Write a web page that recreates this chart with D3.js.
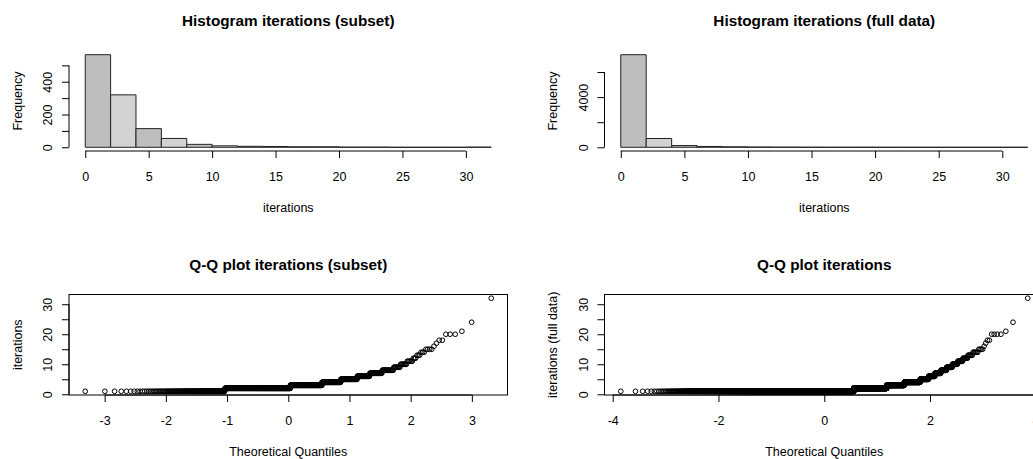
<!DOCTYPE html>
<html><head><meta charset="utf-8">
<script src="https://cdn.jsdelivr.net/npm/d3@7"></script>
<style>
html,body{margin:0;padding:0;background:#fff;}
svg{display:block;font-family:"Liberation Sans",Arial,Helvetica,sans-serif;}
</style></head><body>
<svg id="chart" width="1033" height="459"></svg>
<script>
// Observed iteration counts, tabulated as frequency per iteration value
const iterationValues = d3.range(1, 33);
const subsetFreq = [165,400,215,105,72,42,32,22,10,8,6,3,3,3,4,1,1,2,0,3,1,0,0,1,0,0,0,0,0,0,0,1];
const fullFreq   = [5960,1420,449,251,90,50,38,28,22,16,12,9,7,6,4,1,1,2,0,4,1,0,0,1,0,0,0,0,0,0,0,1];

// Histogram breaks and axis ticks
const histBreaks = d3.range(0, 33, 2);
const histXTicks = [0,5,10,15,20,25,30];
const subsetFreqTicks = [0,100,200,300,400,500];
const subsetFreqLabels = [0,200,400];
const fullFreqTicks = [0,2000,4000,6000];
const fullFreqLabels = [0,4000];
const qqXTicksSubset = [-3,-2,-1,0,1,2,3];
const qqXTicksFull = [-4,-2,0,2,4];
const qqYTicks = [0,5,10,15,20,25,30];
const qqYLabels = [0,10,20,30];

const svg = d3.select("#chart");
const cols = [{x0: 69, x1: 507.5}, {x0: 604.5, x1: 1044}];
const rows = [{y0: 51, y1: 151}, {y0: 294.5, y1: 395}];
const TICK = 7, FS = 12.5, TITLE_FS = 15.3;

// base-R style 4% range extension
function extend(lo, hi) { const p = (hi - lo) * 0.04; return [lo - p, hi + p]; }

// inverse standard normal CDF (Acklam)
function qnorm(p) {
  const a=[-3.969683028665376e+01,2.209460984245205e+02,-2.759285104469687e+02,1.383577518672690e+02,-3.066479806614716e+01,2.506628277459239e+00];
  const b=[-5.447609879822406e+01,1.615858368580409e+02,-1.556989798598866e+02,6.680131188771972e+01,-1.328068155288572e+01];
  const c=[-7.784894002430293e-03,-3.223964580411365e-01,-2.400758277161838e+00,-2.549732539343734e+00,4.374664141464968e+00,2.938163982698783e+00];
  const d=[7.784695709041462e-03,3.224671290700398e-01,2.445134137142996e+00,3.754408661907416e+00];
  const pl = 0.02425, ph = 1 - pl; let q, r;
  if (p < pl) { q = Math.sqrt(-2*Math.log(p)); return (((((c[0]*q+c[1])*q+c[2])*q+c[3])*q+c[4])*q+c[5])/((((d[0]*q+d[1])*q+d[2])*q+d[3])*q+1); }
  if (p > ph) { q = Math.sqrt(-2*Math.log(1-p)); return -(((((c[0]*q+c[1])*q+c[2])*q+c[3])*q+c[4])*q+c[5])/((((d[0]*q+d[1])*q+d[2])*q+d[3])*q+1); }
  q = p - 0.5; r = q*q;
  return (((((a[0]*r+a[1])*r+a[2])*r+a[3])*r+a[4])*r+a[5])*q/(((((b[0]*r+b[1])*r+b[2])*r+b[3])*r+b[4])*r+1);
}

function expand(freq) { return iterationValues.flatMap((v, i) => Array(freq[i]).fill(v)); }

// right-closed bins, first bin includes its lower edge
function binCounts(freq) {
  return histBreaks.slice(0, -1).map((lo, i) => {
    const hi = histBreaks[i + 1];
    let n = 0;
    iterationValues.forEach((v, j) => { if ((v > lo || (i === 0 && v >= lo)) && v <= hi) n += freq[j]; });
    return {lo, hi, n};
  });
}

function title(col, row, text) {
  svg.append("text").attr("x", (col.x0 + col.x1) / 2).attr("y", row.y0 - 25)
    .attr("text-anchor", "middle").attr("font-weight", "bold").attr("font-size", TITLE_FS)
    .attr("fill", "#000").text(text);
}
function xLabel(col, row, text) {
  svg.append("text").attr("x", (col.x0 + col.x1) / 2).attr("y", row.y1 + 61)
    .attr("text-anchor", "middle").attr("font-size", FS).attr("fill", "#000").text(text);
}
function yLabel(col, row, text) {
  const cx = col.x0 - 47.5, cy = (row.y0 + row.y1) / 2;
  svg.append("text").attr("transform", `translate(${cx},${cy}) rotate(-90)`)
    .attr("text-anchor", "middle").attr("font-size", FS).attr("fill", "#000").text(text);
}

// plain hyphen-minus for negative tick labels
const plainNum = d => String(d);

function bottomAxis(x, ticks, yPos) {
  const g = svg.append("g").attr("transform", `translate(0,${yPos})`)
    .call(d3.axisBottom(x).tickValues(ticks).tickSize(TICK).tickSizeOuter(0).tickFormat(plainNum));
  g.select(".domain").remove();
  g.append("line").attr("x1", x(ticks[0])).attr("x2", x(ticks[ticks.length - 1]))
    .attr("stroke", "#000");
  g.attr("font-size", FS).attr("font-family", null).attr("color", "#000");
  g.selectAll(".tick line").attr("stroke", "#000");
  g.selectAll(".tick text").attr("dy", null).attr("y", 30).attr("fill", "#000");
  return g;
}
function leftAxis(y, ticks, labels, xPos) {
  const g = svg.append("g").attr("transform", `translate(${xPos},0)`)
    .call(d3.axisLeft(y).tickValues(ticks).tickSize(TICK).tickSizeOuter(0)
      .tickFormat(d => labels.includes(d) ? String(d) : ""));
  g.select(".domain").remove();
  g.append("line").attr("y1", y(ticks[0])).attr("y2", y(ticks[ticks.length - 1]))
    .attr("stroke", "#000");
  g.attr("font-size", FS).attr("font-family", null).attr("color", "#000");
  g.selectAll(".tick line").attr("stroke", "#000");
  g.selectAll(".tick text").attr("x", null).attr("dy", null)
    .attr("text-anchor", "middle").attr("transform", "translate(-17,0) rotate(-90)").attr("fill", "#000");
  return g;
}

function histogram(col, row, freq, yTicks, yLabels, name) {
  const bins = binCounts(freq);
  const maxN = d3.max(bins, d => d.n);
  const x = d3.scaleLinear().domain(extend(histBreaks[0], histBreaks[histBreaks.length - 1])).range([col.x0, col.x1]);
  const y = d3.scaleLinear().domain(extend(0, maxN)).range([row.y1, row.y0]);
  svg.append("g").selectAll("path").data(bins).join("path")
    .attr("d", d => `M${x(d.lo)},${y(0)}V${y(d.n)}H${x(d.hi)}V${y(0)}Z`)
    .attr("fill", (d, i) => i % 2 === 0 ? "#bebebe" : "#d3d3d3")
    .attr("stroke", "#222").attr("stroke-width", 1);
  bottomAxis(x, histXTicks, row.y1);
  leftAxis(y, yTicks, yLabels, col.x0);
  title(col, row, name);
  xLabel(col, row, "iterations");
  yLabel(col, row, "Frequency");
}

function qqplot(col, row, freq, xTicks, name, ylab) {
  const sample = expand(freq);
  const n = sample.length;
  const pts = sample.map((v, i) => ({q: qnorm((i + 0.5) / n), v}));
  const qMax = d3.max(pts, d => Math.abs(d.q));
  const x = d3.scaleLinear().domain(extend(-qMax, qMax)).range([col.x0, col.x1]);
  const y = d3.scaleLinear().domain(extend(d3.min(sample), d3.max(sample))).range([row.y1, row.y0]);
  svg.append("rect").attr("x", col.x0).attr("y", row.y0)
    .attr("width", col.x1 - col.x0).attr("height", row.y1 - row.y0)
    .attr("fill", "none").attr("stroke", "#000");
  svg.append("g").selectAll("circle").data(pts).join("circle")
    .attr("cx", d => x(d.q)).attr("cy", d => y(d.v)).attr("r", 2.35)
    .attr("fill", "none").attr("stroke", "#000").attr("stroke-width", 1);
  bottomAxis(x, xTicks, row.y1);
  leftAxis(y, qqYTicks, qqYLabels, col.x0);
  title(col, row, name);
  xLabel(col, row, "Theoretical Quantiles");
  yLabel(col, row, ylab);
}

histogram(cols[0], rows[0], subsetFreq, subsetFreqTicks, subsetFreqLabels, "Histogram iterations (subset)");
histogram(cols[1], rows[0], fullFreq, fullFreqTicks, fullFreqLabels, "Histogram iterations (full data)");
qqplot(cols[0], rows[1], subsetFreq, qqXTicksSubset, "Q-Q plot iterations (subset)", "iterations");
qqplot(cols[1], rows[1], fullFreq, qqXTicksFull, "Q-Q plot iterations", "iterations (full data)");
</script>
</body></html>
